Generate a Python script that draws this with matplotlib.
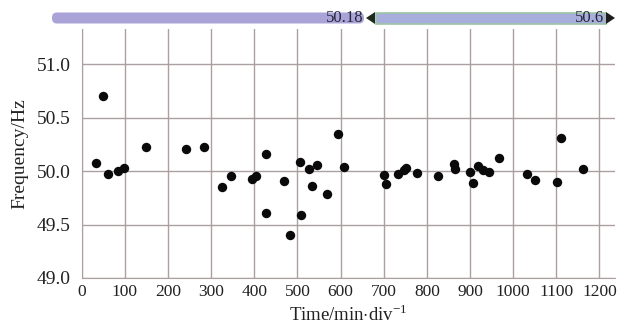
import matplotlib
matplotlib.use("Agg")
import matplotlib.pyplot as plt
from matplotlib.patches import FancyBboxPatch, Rectangle, Polygon

plt.rcParams['font.family'] = ['Liberation Serif', 'DejaVu Serif']
plt.rcParams['mathtext.fontset'] = 'custom'
plt.rcParams['mathtext.rm'] = 'Liberation Serif'

# time (min) and measured frequency (Hz)
time_min = [33, 50, 62, 83, 97, 148, 242, 284, 326, 345,
            394, 405, 428, 426, 470, 483, 507, 508, 527, 534,
            546, 568, 593, 608, 701, 706, 733, 746, 752, 776,
            825, 864, 865, 900, 906, 919, 930, 944, 967, 1033,
            1050, 1102, 1110, 1161]
freq_hz = [50.08, 50.70, 49.97, 50.00, 50.03, 50.23, 50.21, 50.23, 49.85, 49.95,
           49.93, 49.95, 50.16, 49.61, 49.91, 49.40, 50.09, 49.59, 50.02, 49.86,
           50.06, 49.79, 50.35, 50.04, 49.96, 49.88, 49.97, 50.01, 50.03, 49.98,
           49.95, 50.07, 50.02, 49.99, 49.89, 50.05, 50.01, 49.99, 50.12, 49.97,
           49.92, 49.90, 50.31, 50.02]

x_ticks = list(range(0, 1300, 100))
y_ticks = [49.0, 49.5, 50.0, 50.5, 51.0]
slider_low, slider_high = "50.18", "50.6"

W, H = 617, 333
fig = plt.figure(figsize=(W / 100, H / 100), dpi=100)

grid_col = '#ab9f9f'
ax = fig.add_axes([81.7 / W, 1 - 278 / H, (615 - 81.7) / W, (278 - 29) / H])
ax.scatter(time_min, freq_hz, s=46, color='#0a0a0a', zorder=3, linewidths=0)
ax.set_xlim(0, 1236)
ax.set_ylim(49.0, 51.33)
ax.set_xticks(x_ticks)
ax.set_yticks(y_ticks)
ax.set_yticklabels(['%.1f' % v for v in y_ticks])
ax.grid(True, color=grid_col, linewidth=1.0)
ax.tick_params(axis='both', length=0, colors='#222222')
ax.tick_params(axis='x', labelsize=12.5, pad=4)
ax.tick_params(axis='y', labelsize=14, pad=8)
for side in ['top', 'right']:
    ax.spines[side].set_visible(False)
for side in ['left', 'bottom']:
    ax.spines[side].set_color(grid_col)
ax.set_xlabel('Time/min$\\cdot$div$^{\\mathregular{-1}}$', fontsize=13.5,
              color='#222222', labelpad=3)
ax.set_ylabel('Frequency/Hz', fontsize=14, color='#222222', labelpad=6)

# range slider strip above the plot
sl = fig.add_axes([0, 1 - 30 / H, 1, 30 / H])
sl.set_xlim(0, W)
sl.set_ylim(30, 0)
sl.axis('off')
sl.add_patch(FancyBboxPatch((52, 12.5), 312, 11, boxstyle='round,pad=0,rounding_size=5',
                            facecolor='#a9a3d8', edgecolor='none'))
sl.add_patch(Rectangle((376, 12.5), 230, 11, facecolor='#a8aedb',
                       edgecolor='#9cc4a6', linewidth=1.2))
sl.add_patch(Polygon([[375, 12], [375, 24], [366, 18]], closed=True,
                     facecolor='#1d2a1d', edgecolor='none'))
sl.add_patch(Polygon([[606, 12], [606, 24], [615, 18]], closed=True,
                     facecolor='#1d1d1d', edgecolor='none'))
sl.text(364, 18.5, slider_low, ha='right', va='center', fontsize=12, color='#26263a')
sl.text(604, 18.5, slider_high, ha='right', va='center', fontsize=12, color='#26263a')

fig.savefig('out.png', dpi=100)
